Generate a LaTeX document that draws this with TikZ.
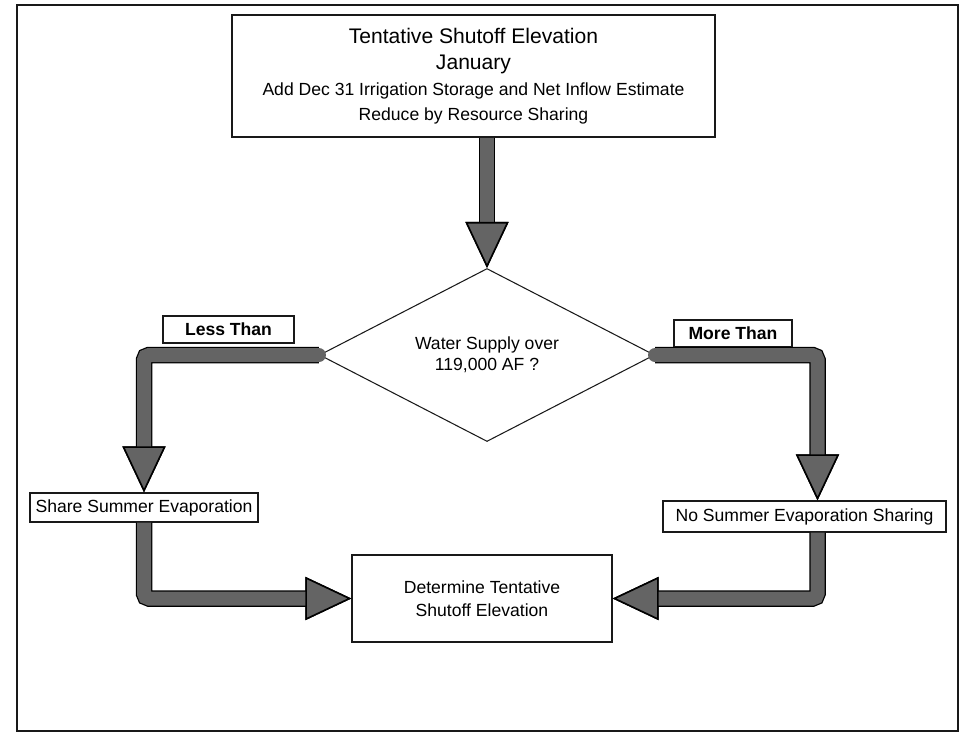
\documentclass[tikz,border=0pt]{standalone}
\usepackage{fontspec}
\setmainfont{Liberation Sans}
\usepackage{tikz}
\usetikzlibrary{shapes.geometric, arrows.meta, positioning, calc}
\definecolor{cfat}{RGB}{100, 100, 100}
\definecolor{cink}{RGB}{25, 25, 25}

\begin{document}
\begin{tikzpicture}[
  font=\normalsize,
  box/.style={rectangle, draw=cink, line width=0.7pt, fill=white, text centered, align=center, inner sep=2pt},
  cond/.style={diamond, draw=cink, line width=0.6pt, aspect=1.94, minimum width=6.7cm, minimum height=3.46cm, inner sep=0pt, align=center},
  tag/.style={box, font=\normalsize\bfseries, minimum height=0.54cm},
  fat/.style={line width=0.28cm, draw=cfat, rounded corners=0.1cm,
    -{Triangle[length=0.92cm, width=0.86cm, color=black, fill=cfat, line width=0.9pt]},
    preaction={draw=black, line width=0.33cm}},
]
\useasboundingbox (0,0) rectangle (19.22,-14.74);

% ---- Page frame ----
\draw[line width=1.1pt, cink] (0.34,-0.10) rectangle (19.16,-14.62);

% ---- Start box ----
\node[box, minimum width=9.66cm, minimum height=2.44cm] (start) at (9.47,-1.52)
  {{\large Tentative Shutoff Elevation}\\[3pt]
   {\large January}\\[3pt]
   Add Dec 31 Irrigation Storage and Net Inflow Estimate\\[2pt]
   Reduce by Resource Sharing};

% ---- Decision ----
\node[cond] (query) at (9.74,-7.10) {Water Supply over\\119,000 AF ?};

% ---- Branch tags ----
\node[tag, minimum width=2.62cm] (less) at (4.57,-6.59) {Less Than};
\node[tag, minimum width=2.36cm] (more) at (14.66,-6.67) {More Than};

% ---- Branch results ----
\node[box, minimum width=4.56cm, minimum height=0.58cm] (share) at (2.88,-10.15)
  {Share Summer Evaporation};
\node[box, minimum width=5.66cm, minimum height=0.62cm] (nosh) at (16.09,-10.33)
  {No Summer Evaporation Sharing};

% ---- End box ----
\node[box, minimum width=5.2cm, minimum height=1.74cm] (final) at (9.64,-11.97)
  {Determine Tentative\\[1pt]Shutoff Elevation};

\coordinate (nosh in) at ($(nosh.north)+(0.26,0)$);
\coordinate (nosh out) at ($(nosh.south)+(0.26,0)$);

% ---- Fat arrows ----
\draw[fat] (start.south -| query.north) -- (query.north);
\draw[fat, line cap=round] (query.west) -| (share.north);
\draw[fat, line cap=round] (query.east) -| (nosh in);
\draw[fat] (share.south) |- (final.west);
\draw[fat] (nosh out) |- (final.east);

\end{tikzpicture}
\end{document}
